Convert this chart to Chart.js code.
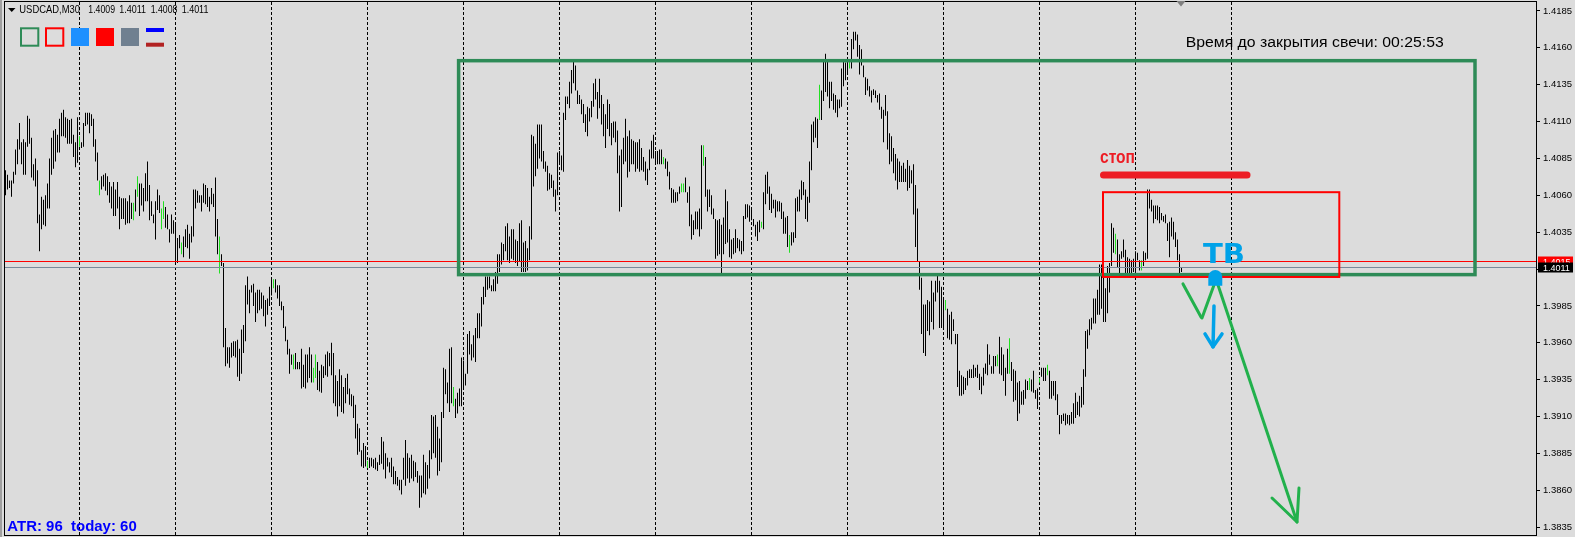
<!DOCTYPE html>
<html><head><meta charset="utf-8">
<script src="https://cdn.jsdelivr.net/npm/chart.js@4.4.1/dist/chart.umd.min.js"></script>
<style>html,body{margin:0;padding:0;background:#dcdcdc;overflow:hidden}canvas{display:block}</style>
</head><body><canvas id="c" width="1575" height="537" style="width:1575px;height:537px"></canvas>
<script>
// ---------------- data ----------------
const SYMBOL = 'USDCAD,M30';
const LAST_OHLC = ['1.4009', '1.4011', '1.4008', '1.4011'];
const PRICE_BASE = 1.3800;          // bar values below are pips above this base
const highPips = [
277,274,270,270,276,291,298,309,296,298,
296,314,312,299,281,285,277,247,259,257,
260,268,285,299,304,305,301,312,316,318,
313,312,311,312,301,296,313,300,296,309,
316,316,316,315,312,298,289,270,273,274,
275,273,269,266,269,264,269,259,258,258,
258,256,260,255,255,264,273,268,268,265,
275,283,267,256,247,256,264,260,251,256,
252,247,237,247,243,241,231,233,228,232,
237,240,234,239,264,264,263,260,260,268,
267,265,259,265,261,272,244,232,220,214,
170,157,157,160,161,161,162,156,169,172,
199,205,196,199,200,194,196,196,194,192,
189,190,198,204,203,203,199,199,188,185,
171,162,156,152,152,153,147,147,
156,145,152,152,157,152,143,152,147,141,
145,144,152,154,153,160,153,138,134,142,
138,130,136,139,129,125,124,118,105,102,
87,92,90,80,82,82,81,82,79,84,
96,93,85,82,79,82,76,73,69,67,
67,82,94,85,82,84,80,79,73,70,
70,84,79,77,87,111,110,111,103,95,
113,143,142,133,156,157,130,122,126,129,
150,148,139,166,168,159,165,170,180,180,
191,198,205,205,205,199,203,208,220,220,
228,227,239,241,232,237,237,230,229,241,
243,228,229,224,239,301,300,295,308,308,
308,290,283,280,275,274,270,264,289,290,
287,316,327,327,337,345,351,348,331,328,
325,322,315,320,319,324,336,
339,330,339,328,322,315,325,322,309,310,
310,304,287,291,299,312,300,304,298,297,
296,296,298,292,286,283,278,291,297,301,
290,290,291,291,286,285,283,276,265,264,
262,262,266,268,268,272,262,266,247,243,
249,249,251,294,294,286,264,264,260,251,
244,243,244,240,245,264,256,237,230,231,
237,231,230,229,246,254,254,253,251,244,
240,242,243,242,262,274,276,266,261,257,
257,256,256,255,249,245,246,233,235,235,
258,259,264,270,269,264,259,283,308,310,
313,312,335,331,351,356,351,337,337,329,
328,325,325,346,351,350,353,351,366,371,
371,369,362,359,348,340,339,334,331,332,
331,328,329,320,318,328,317,302,
300,292,288,
285,283,280,282,278,284,280,277,281,267,
251,215,204,186,186,189,188,202,194,202,
206,202,198,191,189,183,179,181,176,166,
166,141,138,137,136,141,142,142,145,143,
145,139,137,143,146,159,152,144,151,151,
152,164,157,152,143,156,163,147,142,141,
133,134,127,128,135,134,136,135,141,128,
129,136,143,143,143,145,141,134,134,134,
125,111,111,112,112,111,111,113,119,126,
120,124,130,142,168,169,176,177,190,190,
196,213,213,204,197,212,214,241,238,234,
230,220,222,230,223,218,217,216,217,222,
221,216,216,222,221,264,264,257,253,253,
253,252,248,246,247,241,242,245,242,235,
230,220,211];
const lowPips = [
260,264,265,259,268,274,281,291,281,274,
274,293,295,272,270,266,241,222,237,240,
239,251,251,274,278,283,289,289,300,300,
299,295,295,295,286,279,282,293,292,293,
307,308,302,307,293,283,270,260,264,266,
263,260,255,251,246,246,251,237,244,244,
240,241,241,244,243,249,259,246,253,249,
256,256,243,246,241,230,250,248,237,244,
238,237,228,234,234,214,214,224,220,218,
225,224,217,228,232,251,255,255,249,255,
254,252,249,254,252,232,220,207,212,157,
144,146,143,150,151,150,137,134,139,153,
161,186,180,194,185,174,180,182,183,178,
171,179,185,192,197,194,190,185,182,170,
161,152,139,145,142,142,142,142,
129,130,129,133,136,133,133,136,128,127,
126,136,138,137,144,138,119,117,110,117,
113,112,119,125,118,117,109,95,84,86,
76,75,76,75,75,76,75,74,73,77,
78,74,68,76,72,69,64,64,63,60,
57,67,63,68,65,68,66,69,65,48,
55,58,57,61,68,81,85,82,70,73,
79,109,125,119,113,119,117,109,112,117,
117,129,131,139,152,148,150,147,163,163,
171,186,191,196,197,195,195,195,200,208,
213,216,222,216,214,217,216,214,212,215,
208,208,208,209,216,230,266,273,278,285,
283,278,276,263,264,265,259,249,260,281,
277,276,311,322,319,329,336,331,322,322,
315,309,303,300,310,313,320,
325,312,319,308,300,292,305,300,294,299,
296,275,249,252,281,283,272,276,281,281,
276,278,276,277,276,270,267,277,285,285,
281,281,281,281,281,278,273,264,255,255,
255,256,261,262,262,262,255,239,230,233,
237,237,232,237,280,259,249,252,247,244,
217,219,220,206,220,227,228,218,217,220,
221,224,222,220,222,244,245,242,243,239,
232,229,235,238,237,254,261,250,248,251,
245,249,249,244,234,234,225,221,226,228,
231,249,249,257,260,244,242,255,277,296,
299,292,311,311,324,330,327,319,324,318,
316,313,319,320,334,338,342,346,346,359,
365,354,342,348,340,328,331,327,323,328,
326,323,318,312,296,314,291,281,
283,275,270,
264,269,269,269,269,263,265,268,247,225,
215,196,166,153,151,168,165,174,169,188,
194,170,170,169,182,163,162,159,168,159,
130,124,124,125,128,131,136,136,136,137,
136,128,125,131,139,138,145,139,139,144,
144,139,138,134,124,139,139,134,120,121,
107,112,118,118,122,128,128,127,126,122,
115,133,137,134,134,138,122,122,124,121,
111,98,105,107,104,105,104,105,105,109,
111,110,116,118,137,156,165,169,173,173,
179,179,183,174,174,180,194,212,221,220,
211,206,217,218,207,206,204,205,208,204,
216,209,209,212,216,217,251,249,241,244,
243,241,243,242,241,229,218,232,230,225,
216,206,208];
const upBars = [37,47,64,66,78,79,88,107,134,144,154,155,181,224,329,338,339,349,378,392,407,422,470,496,502,512,517,521,555,568];
const yTicks = [1.3835,1.3860,1.3885,1.3910,1.3935,1.3960,1.3985,1.4010,1.4035,1.4060,1.4085,1.4110,1.4135,1.4160,1.4185];
const dayStartBars = [37,85,133,181,229,277,325,373,421,469,517,565,613];
const ASK = 1.4015, BID = 1.4011;
const X_MIN = -0.75, X_MAX = 765.25;
const Y_MIN = 1.38296, Y_MAX = 1.41911;

// chart objects drawn by the trader (bar index / price coordinates)
const greenBox = {x0: 226.55, x1: 734.75, p0: 1.41513, p1: 1.40062};
const redBox   = {x0: 548.75, x1: 666.9,  p0: 1.40621, p1: 1.40046};
const stopLine = {x0: 549, x1: 620.75, p: 1.40738};
const stopText = {x: 547.25, p: 1.40819, text: 'стоп'};
const tbText   = {x: 598.75, p: 1.40138, text: 'ТВ'};
const dome     = {x: 604.9, p: 1.40046, pBottom: 1.39987};
const blueShaft = [[604.25,1.39850],[603.75,1.39572]];
const blueHead  = [[599.75,1.39660],[603.75,1.39572],[608.25,1.39660]];
const greenPaths = [
  [[588.75,1.39999],[597.75,1.39775]],
  [[598.25,1.39768],[604.25,1.39992]],
  [[606.25,1.39992],[645.75,1.38384]],
  [[633.25,1.38547],[645.75,1.38384],[646.75,1.38615]]
];

// ---------------- chart ----------------
Chart.defaults.font.family = "'Liberation Sans', Arial, sans-serif";
const BG = '#dcdcdc';
const upSet = new Set(upBars);
const bars = highPips.map((h, i) => ({x: i, y: [PRICE_BASE + lowPips[i] / 10000, PRICE_BASE + h / 10000]}));

function fitText(c, txt, x, y, font, color, w) {
  c.font = font; c.fillStyle = color; c.textBaseline = 'alphabetic'; c.textAlign = 'left';
  const m = c.measureText(txt).width;
  c.save(); c.translate(x, y); c.scale(w / m, 1); c.fillText(txt, 0, 0); c.restore();
}

const overlay = {
  id: 'overlay',
  beforeDraw(chart) {
    const c = chart.ctx;
    c.save(); c.fillStyle = BG; c.fillRect(0, 0, chart.width, chart.height);
    c.fillStyle = '#a0a0a0'; c.fillRect(0, 0, 2, chart.height);
    c.restore();
  },
  afterDatasetsDraw(chart) {
    const c = chart.ctx, xs = chart.scales.x, ys = chart.scales.y, a = chart.chartArea;
    const X = v => xs.getPixelForValue(v), Y = v => ys.getPixelForValue(v);
    c.save();
    c.beginPath(); c.rect(a.left, a.top, a.right - a.left, a.bottom - a.top); c.clip();
    // ask / bid lines
    const hl = (p, col) => { const y = Math.round(Y(p) - 0.5) + 0.5; c.strokeStyle = col; c.lineWidth = 1; c.beginPath(); c.moveTo(a.left, y); c.lineTo(a.right, y); c.stroke(); };
    hl(ASK, '#ff0000'); hl(BID, '#778899');
    // green rectangle
    c.strokeStyle = '#2e8b57'; c.lineWidth = 3.5; c.lineJoin = 'miter';
    c.strokeRect(X(greenBox.x0), Y(greenBox.p0), X(greenBox.x1) - X(greenBox.x0), Y(greenBox.p1) - Y(greenBox.p0));
    // red rectangle
    c.strokeStyle = '#ff0000'; c.lineWidth = 2;
    c.strokeRect(X(redBox.x0), Y(redBox.p0), X(redBox.x1) - X(redBox.x0), Y(redBox.p1) - Y(redBox.p0));
    // stop line
    c.strokeStyle = '#ed1c24'; c.lineWidth = 7; c.lineCap = 'round';
    c.beginPath(); c.moveTo(X(stopLine.x0), Y(stopLine.p)); c.lineTo(X(stopLine.x1), Y(stopLine.p)); c.stroke();
    fitText(c, stopText.text, X(stopText.x), Y(stopText.p), "bold 19px 'Liberation Sans'", '#ed1c24', 35);
    // green hand lines
    c.strokeStyle = '#22b14c'; c.lineWidth = 3; c.lineCap = 'round'; c.lineJoin = 'round';
    greenPaths.forEach(pts => { c.beginPath(); pts.forEach((q, k) => k ? c.lineTo(X(q[0]), Y(q[1])) : c.moveTo(X(q[0]), Y(q[1]))); c.stroke(); });
    // blue dome
    c.fillStyle = '#00a2e8';
    const dx = X(dome.x), dy = Y(dome.p), db = Y(dome.pBottom);
    c.beginPath(); c.arc(dx, dy, 7, Math.PI, 2 * Math.PI); c.lineTo(dx + 7, db); c.lineTo(dx - 7, db); c.closePath(); c.fill();
    // blue arrow
    c.strokeStyle = '#00a2e8'; c.lineWidth = 3.5;
    [blueShaft, blueHead].forEach(pts => { c.beginPath(); pts.forEach((q, k) => k ? c.lineTo(X(q[0]), Y(q[1])) : c.moveTo(X(q[0]), Y(q[1]))); c.stroke(); });
    fitText(c, tbText.text, X(tbText.x), Y(tbText.p), "bold 26px 'DejaVu Sans'", '#00a2e8', 42);
    c.restore();
  },
  afterDraw(chart) {
    const c = chart.ctx, ys = chart.scales.y, a = chart.chartArea;
    const Y = v => ys.getPixelForValue(v);
    c.save();
    // frame
    c.strokeStyle = '#000'; c.lineWidth = 1;
    c.strokeRect(a.left + 0.5, a.top - 0.5, a.right - a.left, a.bottom - a.top + 1);
    // price labels
    const lab = (p, bg) => { const y = Y(p); c.fillStyle = bg; c.fillRect(a.right + 2, Math.round(y) - 5.5, 35, 10);
      c.fillStyle = '#fff'; c.font = "9px 'Liberation Sans'"; c.textBaseline = 'middle'; c.textAlign = 'left'; c.fillText(p.toFixed(4), a.right + 7, y + 0.5); };
    lab(ASK, '#ff0000'); lab(BID, '#000000');
    // shift marker
    c.fillStyle = '#808080'; c.beginPath(); c.moveTo(1176.5, 1); c.lineTo(1185.5, 1); c.lineTo(1181, 6.5); c.closePath(); c.fill();
    // header
    c.fillStyle = '#000'; c.beginPath(); c.moveTo(8, 8); c.lineTo(15.5, 8); c.lineTo(11.75, 12); c.closePath(); c.fill();
    fitText(c, SYMBOL, 19.3, 12.7, "10.5px 'Liberation Sans'", '#000', 60.7);
    [88.3, 119.3, 150.7, 181.7].forEach((x, k) => fitText(c, LAST_OHLC[k], x, 12.7, "10.5px 'Liberation Sans'", '#000', 26.7));
    // legend squares
    c.lineWidth = 2;
    c.strokeStyle = '#2e8b57'; c.strokeRect(21, 28.3, 17.3, 17.4);
    c.strokeStyle = '#ff0000'; c.strokeRect(46, 28.3, 17.3, 17.4);
    c.fillStyle = '#1e90ff'; c.fillRect(71, 28, 18, 18);
    c.fillStyle = '#ff0000'; c.fillRect(96, 28, 18, 18);
    c.fillStyle = '#708090'; c.fillRect(121, 28, 18, 18);
    c.fillStyle = '#0000ff'; c.fillRect(146, 28, 18, 4);
    c.fillStyle = '#b22222'; c.fillRect(146, 42.7, 18, 4);
    // timer text
    fitText(c, 'Время до закрытия свечи: 00:25:53', 1185.7, 46.7, "15.5px 'Liberation Sans'", '#000', 258);
    // ATR text
    fitText(c, 'ATR: 96  today: 60', 7.3, 530.7, "bold 14px 'Liberation Sans'", '#0000ff', 129.4);
    c.restore();
  }
};

new Chart(document.getElementById('c'), {
  type: 'bar',
  data: { datasets: [{
    data: bars,
    backgroundColor: ctx => upSet.has(ctx.dataIndex) ? '#22e022' : '#000000',
    borderWidth: 0, barThickness: 1, maxBarThickness: 1, inflateAmount: 0
  }]},
  options: {
    responsive: false, animation: false, devicePixelRatio: 1,
    layout: { padding: { left: 4, top: 2, right: 0, bottom: 2 } },
    plugins: { legend: { display: false }, tooltip: { enabled: false } },
    scales: {
      x: {
        type: 'linear', min: X_MIN, max: X_MAX, offset: false, position: 'bottom',
        grid: { color: '#000', lineWidth: 1, drawTicks: false, drawOnChartArea: true, offset: false },
        border: { display: false, dash: [3, 2] },
        ticks: { display: false },
        afterBuildTicks: s => { s.ticks = dayStartBars.map(v => ({ value: v })); },
        afterFit: s => { s.height = 0; s.paddingLeft = 0; s.paddingRight = 0; }
      },
      y: {
        type: 'linear', position: 'right', min: Y_MIN, max: Y_MAX,
        grid: { drawOnChartArea: false, drawTicks: true, tickLength: 4, color: '#000' },
        border: { display: false },
        ticks: { color: '#000', font: { size: 9.5 }, padding: 3, autoSkip: false, callback: v => v.toFixed(4) },
        afterBuildTicks: s => { s.ticks = yTicks.map(v => ({ value: v })); },
        afterFit: s => { s.width = 39; s.paddingTop = 0; s.paddingBottom = 0; }
      }
    }
  },
  plugins: [overlay]
});
</script>
</body></html>
